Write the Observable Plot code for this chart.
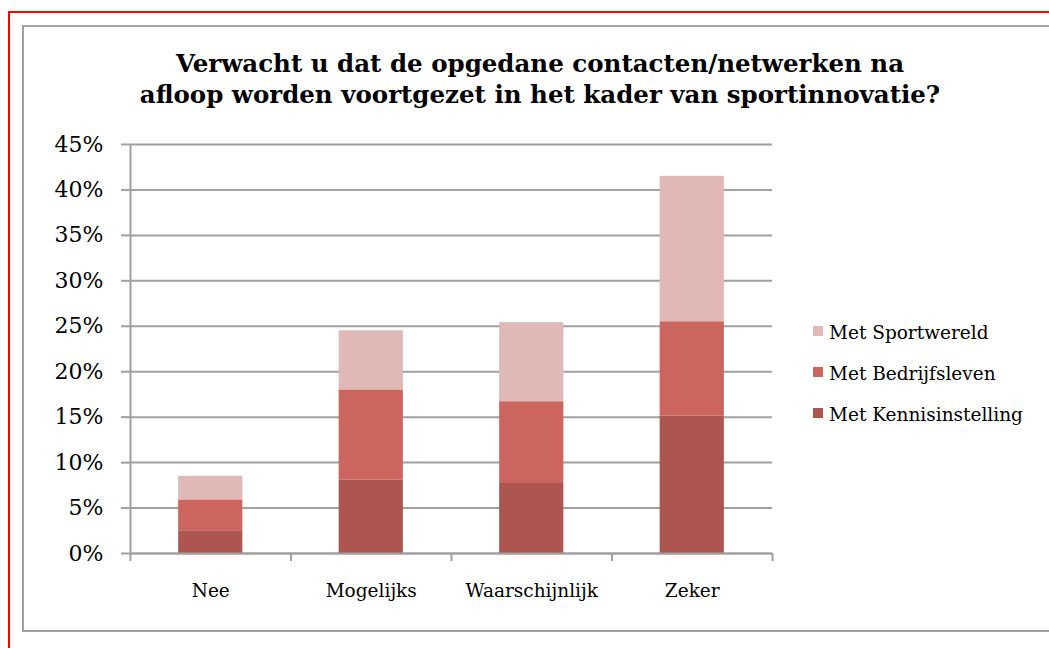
<!DOCTYPE html>
<html>
<head>
<meta charset="utf-8">
<script src="https://cdn.jsdelivr.net/npm/d3@7"></script>
<script src="https://cdn.jsdelivr.net/npm/@observablehq/plot@0.6"></script>
<style>
  html, body { margin: 0; padding: 0; background: #fff; width: 1049px; height: 648px; overflow: hidden; }
  #red { position: absolute; left: 8px; top: 11px; width: 1100px; height: 700px; border-left: 2px solid #ff0000; border-top: 2px solid #ff0000; box-sizing: border-box; }
  #gray { position: absolute; left: 22px; top: 25px; width: 1100px; height: 607px; border: 2px solid #a0a0a0; box-sizing: border-box; }
  #title { position: absolute; left: 0; width: 1080px; top: 48px; text-align: center; font-family: "DejaVu Serif", serif; font-weight: bold; font-size: 24.5px; line-height: 31px; color: #000; }
  #chart { position: absolute; left: 0; top: 0; }
  #legend { position: absolute; left: 813px; top: 312px; font-family: "DejaVu Serif", serif; font-size: 18.5px; color: #000; }
  .item { display: flex; align-items: center; height: 41px; }
  .sw { width: 10px; height: 10px; margin-right: 6px; margin-top: -3px; }
</style>
</head>
<body>
<div id="red"></div>
<div id="gray"></div>
<div id="title">Verwacht u dat de opgedane contacten/netwerken na<br>afloop worden voortgezet in het kader van sportinnovatie?</div>
<div id="chart"></div>
<div id="legend"></div>
<script>
const categories = ["Nee", "Mogelijks", "Waarschijnlijk", "Zeker"];
const series = ["Met Kennisinstelling", "Met Bedrijfsleven", "Met Sportwereld"];
const kennis = [2.5, 8.1, 7.7, 15.1];
const bedrijf = [3.4, 9.9, 9.0, 10.4];
const sport = [2.6, 6.5, 8.7, 16.0];
const colors = ["#ad554f", "#cc655e", "#e0b8b6"];
const yTicks = [0, 0.05, 0.1, 0.15, 0.2, 0.25, 0.3, 0.35, 0.4, 0.45];

const seriesValues = [kennis, bedrijf, sport];
const data = [];
categories.forEach((c, i) => {
  series.forEach((s, j) => {
    data.push({cat: c, idx: i, series: s, value: seriesValues[j][i] / 100});
  });
});

const gray = "#a0a0a0";
const chart = Plot.plot({
  width: 1049,
  height: 648,
  marginLeft: 130,
  marginRight: 277,
  marginTop: 144,
  marginBottom: 95,
  style: {background: "transparent", overflow: "visible"},
  x: {domain: [0, categories.length], axis: null, label: null},
  y: {domain: [0, 0.45], axis: null, label: null},
  color: {domain: series, range: colors},
  marks: [
    Plot.gridY(yTicks, {stroke: gray, strokeOpacity: 1, strokeWidth: 2}),
    Plot.rectY(data, {
      x1: d => d.idx + 0.3,
      x2: d => d.idx + 0.7,
      y: "value",
      fill: "series"
    }),
    Plot.ruleX([0], {stroke: gray, strokeWidth: 2}),
    Plot.ruleY([0], {stroke: gray, strokeWidth: 2}),
    Plot.axisY(yTicks, {
      label: null,
      tickSize: 9,
      tickPadding: 18,
      stroke: gray,
      strokeWidth: 2,
      tickFormat: d3.format(".0%"),
      fontSize: 22,
      fontFamily: "DejaVu Serif",
      fill: "#000"
    }),
    Plot.axisX(d3.range(categories.length + 1), {
      label: null,
      tickSize: 8,
      stroke: gray,
      strokeWidth: 2,
      tickFormat: () => ""
    }),
    Plot.axisX(categories.map((c, i) => i + 0.5), {
      label: null,
      tickSize: 0,
      tickPadding: 30,
      tickFormat: d => categories[Math.floor(d)],
      fontSize: 18.5,
      fontFamily: "DejaVu Serif",
      fill: "#000"
    })
  ]
});
document.getElementById("chart").appendChild(chart);

const legend = document.getElementById("legend");
series.slice().reverse().forEach(s => {
  const item = document.createElement("div");
  item.className = "item";
  const sw = document.createElement("div");
  sw.className = "sw";
  sw.style.background = colors[series.indexOf(s)];
  const lab = document.createElement("span");
  lab.textContent = s;
  item.appendChild(sw);
  item.appendChild(lab);
  legend.appendChild(item);
});
</script>
</body>
</html>
